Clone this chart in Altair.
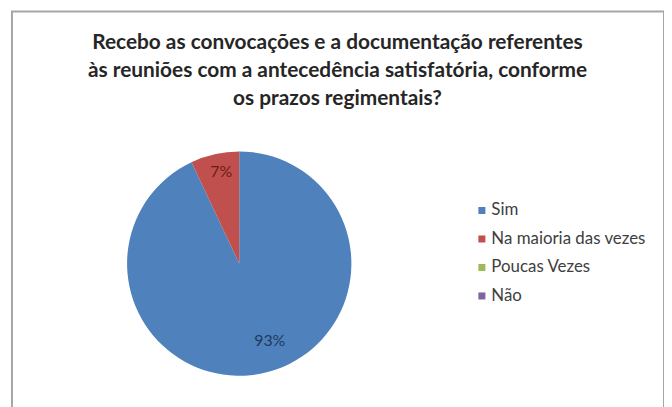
import altair as alt
import pandas as pd

categories = ["Sim", "Na maioria das vezes", "Poucas Vezes", "Não"]
values = [93, 7, 0, 0]
labels = ["93%", "7%", "", ""]
colors = ["#4F81BD", "#C0504D", "#9BBB59", "#8064A2"]
label_colors = ["#1F3A60", "#6E1A18", "#4F6228", "#3F3151"]
title_lines = [
    "Recebo as convocações e a documentação referentes",
    "às reuniões com a antecedência satisfatória, conforme",
    "os prazos regimentais?",
]

df = pd.DataFrame({
    "cat": categories,
    "val": values,
    "lab": labels,
    "ord": list(range(len(categories))),
    "lcol": label_colors,
})

FONT = "Lato"
cx, cy, R = 229, 254, 113

base = alt.Chart(df)

pie = base.mark_arc(radius=R).encode(
    theta=alt.Theta("val:Q", stack=True),
    order=alt.Order("ord:Q"),
    color=alt.Color(
        "cat:N",
        scale=alt.Scale(domain=categories, range=colors),
        sort=categories,
        legend=alt.Legend(
            title=None,
            orient="none",
            legendX=465,
            legendY=192,
            symbolType="square",
            symbolSize=50,
            symbolStrokeWidth=0,
            labelFont=FONT,
            labelFontSize=17,
            labelColor="#404040",
            rowPadding=10.7,
            labelOffset=1,
        ),
    ),
    x=alt.value(cx),
    y=alt.value(cy),
)


def label_layer(idx, r, dx, dy):
    return base.mark_text(font=FONT, fontSize=16, dx=dx, dy=dy).encode(
        theta=alt.Theta("val:Q", stack=True),
        order=alt.Order("ord:Q"),
        radius=alt.value(r),
        text=alt.condition(f"datum.ord == {idx}", "lab:N", alt.value("")),
        color=alt.Color("lcol:N", scale=None),
        x=alt.value(cx),
        y=alt.value(cy),
    )


text_big = label_layer(0, 86, 12, -6)
text_small = label_layer(1, 92, 2, -2)

title = alt.Chart(pd.DataFrame({"t": [0]})).mark_text(
    text=title_lines,
    font=FONT,
    fontSize=21,
    fontWeight="bold",
    color="#262626",
    lineHeight=28,
    baseline="middle",
    align="center",
).encode(x=alt.value(328), y=alt.value(32))

chart = alt.layer(pie, text_big, text_small, title).properties(
    width=657,
    height=405,
    autosize=alt.AutoSizeParams(type="none"),
    padding={"left": 4, "top": 2, "right": 0, "bottom": 0},
).configure_view(stroke="#A6A6A6", strokeWidth=2)

chart.save("out.html", embed_options={"renderer": "svg", "actions": False})
